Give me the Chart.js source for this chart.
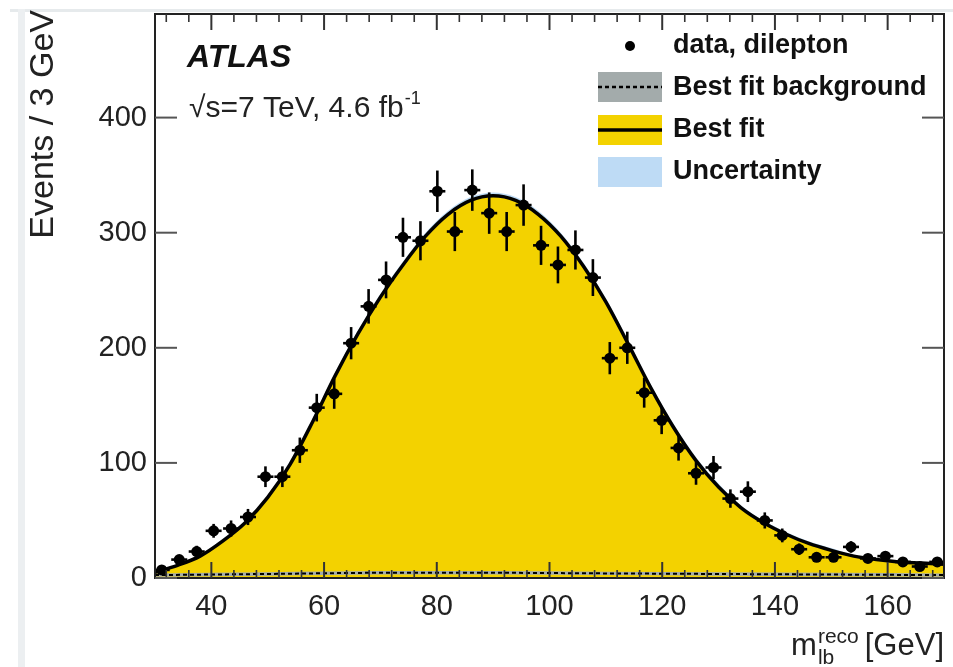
<!DOCTYPE html>
<html><head><meta charset="utf-8">
<script src="https://cdn.jsdelivr.net/npm/chart.js@4.4.1/dist/chart.umd.min.js"></script>
<style>
html,body{margin:0;padding:0;background:#fff;overflow:hidden}
#wrap{position:relative;width:953px;height:667px}
.edgeT{position:absolute;left:10px;top:9px;width:943px;height:3px;background:#e6eaec}
.edgeL{position:absolute;left:18px;top:9px;width:7px;height:658px;background:#eceff1}
canvas{position:absolute;left:0;top:0}
</style></head><body>
<div id="wrap"><div class="edgeT"></div><div class="edgeL"></div><canvas id="c" width="953" height="667"></canvas></div>
<script>
// ---- data ----
const binCenters = [31.2, 34.3, 37.4, 40.4, 43.5, 46.5, 49.6, 52.6, 55.7, 58.7, 61.8, 64.8, 67.9, 71.0, 74.0, 77.1, 80.1, 83.2, 86.3, 89.3, 92.4, 95.4, 98.5, 101.5, 104.6, 107.7, 110.7, 113.8, 116.8, 119.9, 122.9, 126.0, 129.1, 132.1, 135.2, 138.2, 141.3, 144.3, 147.4, 150.4, 153.5, 156.5, 159.6, 162.7, 165.7, 168.8];
const dataCounts = [7, 16, 23, 41, 43, 53, 88, 88, 111, 148, 160, 204, 236, 259, 296, 293, 336, 301, 337, 317, 301, 324, 289, 272, 285, 261, 191, 200, 161, 137, 113, 91, 96, 69, 75, 50, 37, 25, 18, 18, 27, 17, 19, 14, 10, 14];
const dataErrors = [3, 4, 5, 6, 7, 7, 9, 9, 11, 12, 13, 14, 15, 16, 17, 17, 18, 17, 18, 18, 17, 18, 17, 16, 17, 16, 14, 14, 13, 12, 11, 10, 10, 8, 9, 7, 6, 5, 4, 4, 5, 4, 4, 4, 3, 4];

const fitX = [30, 34, 38, 42, 46, 50, 54, 58, 62, 66, 70, 74, 78, 82, 86, 90, 94, 98, 102, 106, 110, 114, 118, 122, 126, 130, 134, 138, 142, 146, 150, 154, 158, 162, 166, 170];
const fitY = [5, 11, 19, 32, 48, 70, 99, 136, 176, 212, 244, 272, 297, 316, 328, 332, 328, 316, 297, 271, 240, 203, 165, 131, 102, 79, 61, 48, 38, 30, 24, 19, 16, 14, 13, 12];
const fitUnc = [1, 1, 1, 2, 2, 2, 3, 3, 3, 3, 3, 3, 3, 3, 3, 3, 3, 3, 3, 3, 3, 3, 3, 3, 3, 3, 2, 2, 2, 2, 2, 1, 1, 1, 1, 1];

const bkgX = [30, 50, 70, 90, 110, 130, 150, 170];
const bkgY = [2.5, 3.5, 4.5, 4.5, 4, 3.5, 3, 2.5];
const bkgUnc = [1.5, 1.5, 1.5, 1.5, 1.5, 1.5, 1.5, 1.5];

const xTicks = [40, 60, 80, 100, 120, 140, 160];
const xMinorTicks = [32, 36, 44, 48, 52, 56, 64, 68, 72, 76, 84, 88, 92, 96, 104, 108, 112, 116, 124, 128, 132, 136, 144, 148, 152, 156, 164, 168];
const yTicks = [0, 100, 200, 300, 400];

const legendLabels = ["data, dilepton", "Best fit background", "Best fit", "Uncertainty"];

// ---- colours ----
const YELLOW = "#F3D200", BLUE = "#BEDBF5", GREY = "#A3ABAB";
const FONT = '"Liberation Sans", Arial, Helvetica, sans-serif';

const pts = (xs, ys) => xs.map((x, i) => ({x: x, y: ys[i]}));

const decor = {
  id: "decor",
  afterDatasetsDraw(chart) {
    const ctx = chart.ctx, xs = chart.scales.x, ys = chart.scales.y, a = chart.chartArea;
    ctx.save();
    ctx.beginPath(); ctx.rect(a.left, a.top, a.right - a.left, a.bottom - a.top); ctx.clip();
    ctx.strokeStyle = "#000"; ctx.lineWidth = 2.6;
    binCenters.forEach((x, i) => {
      const px = xs.getPixelForValue(x);
      const py = ys.getPixelForValue(dataCounts[i]);
      const y1 = ys.getPixelForValue(dataCounts[i] + dataErrors[i]);
      const y2 = ys.getPixelForValue(Math.max(0, dataCounts[i] - dataErrors[i]));
      ctx.beginPath(); ctx.moveTo(px, y1); ctx.lineTo(px, y2); ctx.stroke();
      ctx.beginPath(); ctx.moveTo(px - 8, py); ctx.lineTo(px + 8, py); ctx.stroke();
    });
    ctx.restore();
  },
  afterDraw(chart) {
    const ctx = chart.ctx, xs = chart.scales.x, ys = chart.scales.y, a = chart.chartArea;
    ctx.save();
    const line = (x1, y1, x2, y2) => { ctx.beginPath(); ctx.moveTo(x1, y1); ctx.lineTo(x2, y2); ctx.stroke(); };
    // frame
    ctx.strokeStyle = "#222"; ctx.lineWidth = 2;
    ctx.strokeRect(a.left, a.top, a.right - a.left, a.bottom - a.top);
    // ticks (inward)
    ctx.strokeStyle = "#333"; ctx.lineWidth = 2;
    xTicks.forEach(v => { const p = xs.getPixelForValue(v); line(p, a.bottom, p, a.bottom - 16); line(p, a.top, p, a.top + 16); });
    ctx.lineWidth = 1.6;
    xMinorTicks.forEach(v => { const p = xs.getPixelForValue(v); line(p, a.bottom, p, a.bottom - 8); line(p, a.top, p, a.top + 8); });
    ctx.lineWidth = 2; ctx.strokeStyle = "#555";
    yTicks.forEach(v => { const p = ys.getPixelForValue(v); line(a.left, p, a.left + 22, p); line(a.right, p, a.right - 22, p); });

    // y title
    ctx.fillStyle = "#222";
    ctx.save();
    ctx.translate(44, 10); ctx.rotate(-Math.PI / 2);
    ctx.font = "34px " + FONT; ctx.textAlign = "right"; ctx.textBaseline = "middle";
    ctx.fillText("Events / 3 GeV", 0, 0);
    ctx.restore();

    // x title  m_lb^reco [GeV]
    ctx.textAlign = "left"; ctx.textBaseline = "alphabetic";
    ctx.font = "31px " + FONT;
    const wG = ctx.measureText("[GeV]").width, wM = ctx.measureText("m").width;
    const endX = 944, base = 655;
    const xG = endX - wG;
    ctx.font = "21px " + FONT;
    const wSup = ctx.measureText("reco").width;
    const xS = xG - 6 - wSup;
    ctx.fillText("reco", xS, base - 12);
    ctx.fillText("lb", xS, base + 9);
    ctx.font = "31px " + FONT;
    ctx.fillText("m", xS - 1 - wM, base);
    ctx.fillText("[GeV]", xG, base);

    // ATLAS label
    ctx.fillStyle = "#111";
    ctx.font = "italic bold 32px " + FONT;
    ctx.fillText("ATLAS", 187, 67);
    ctx.font = "30px " + FONT; ctx.fillStyle = "#222";
    const t1 = "\u221As=7 TeV, 4.6 fb";
    ctx.fillText(t1, 189, 117);
    const w1 = ctx.measureText(t1).width;
    ctx.font = "18px " + FONT;
    ctx.fillText("-1", 189 + w1 + 1, 104);

    // legend
    const bx = 598, bw = 64, bh = 30, tx = 673;
    ctx.font = "bold 27px " + FONT; ctx.textBaseline = "middle"; ctx.fillStyle = "#111";
    ctx.beginPath(); ctx.arc(630, 46, 5, 0, Math.PI * 2); ctx.fillStyle = "#000"; ctx.fill();
    ctx.fillStyle = "#111"; ctx.fillText(legendLabels[0], tx, 46);
    ctx.fillStyle = GREY; ctx.fillRect(bx, 72, bw, bh);
    ctx.strokeStyle = "#000"; ctx.lineWidth = 2.5; ctx.setLineDash([4, 3]);
    line(bx, 87, bx + bw, 87); ctx.setLineDash([]);
    ctx.fillStyle = "#111"; ctx.fillText(legendLabels[1], tx, 88);
    ctx.fillStyle = YELLOW; ctx.fillRect(bx, 115, bw, bh);
    ctx.lineWidth = 3.5; line(bx, 130, bx + bw, 130);
    ctx.fillStyle = "#111"; ctx.fillText(legendLabels[2], tx, 130);
    ctx.fillStyle = BLUE; ctx.fillRect(bx, 157, bw, bh);
    ctx.fillStyle = "#111"; ctx.fillText(legendLabels[3], tx, 172);
    ctx.restore();
  }
};

const curveUp = fitX.map((x, i) => ({x: x, y: fitY[i] + fitUnc[i]}));
const curveDn = fitX.map((x, i) => ({x: x, y: fitY[i] - fitUnc[i]}));
const bkgUp = bkgX.map((x, i) => ({x: x, y: bkgY[i] + bkgUnc[i]}));
const bkgDn = bkgX.map((x, i) => ({x: x, y: Math.max(0, bkgY[i] - bkgUnc[i])}));

const smooth = {cubicInterpolationMode: "monotone", pointRadius: 0, showLine: true};

new Chart(document.getElementById("c"), {
  type: "scatter",
  data: {
    datasets: [
      {label: legendLabels[0], data: pts(binCenters, dataCounts), order: 0, pointRadius: 5.5, pointBackgroundColor: "#000", pointBorderWidth: 0, showLine: false},
      Object.assign({label: legendLabels[2], data: pts(fitX, fitY), order: 1, borderColor: "#000", borderWidth: 3.5, fill: false}, smooth),
      Object.assign({label: legendLabels[1], data: pts(bkgX, bkgY), order: 2, borderColor: "#000", borderWidth: 2, borderDash: [4, 3], fill: false}, smooth),
      Object.assign({label: "bkg band up", data: bkgUp, order: 3, borderWidth: 0, backgroundColor: GREY, fill: "+1"}, smooth),
      Object.assign({label: "bkg band down", data: bkgDn, order: 3, borderWidth: 0, fill: false}, smooth),
      Object.assign({label: "fit fill", data: pts(fitX, fitY), order: 4, borderWidth: 0, backgroundColor: YELLOW, fill: "origin"}, smooth),
      Object.assign({label: legendLabels[3], data: curveUp, order: 5, borderWidth: 0, backgroundColor: BLUE, fill: "+1"}, smooth),
      Object.assign({label: "unc down", data: curveDn, order: 5, borderWidth: 0, fill: false}, smooth)
    ]
  },
  options: {
    responsive: false,
    animation: false,
    layout: {padding: {top: 14, right: 9, left: 0, bottom: 0}},
    plugins: {legend: {display: false}, tooltip: {enabled: false}},
    scales: {
      x: {
        type: "linear", min: 30, max: 170,
        afterBuildTicks: s => { s.ticks = xTicks.map(v => ({value: v})); },
        afterFit: s => { s.height = 89; s.paddingLeft = 0; s.paddingRight = 0; },
        grid: {display: false, drawTicks: false}, border: {display: false},
        ticks: {font: {size: 29, family: FONT}, color: "#222", padding: 12}
      },
      y: {
        min: 0, max: 490,
        afterBuildTicks: s => { s.ticks = yTicks.map(v => ({value: v})); },
        afterFit: s => { s.width = 155; s.paddingTop = 0; s.paddingBottom = 0; },
        grid: {display: false, drawTicks: false}, border: {display: false},
        ticks: {font: {size: 29, family: FONT}, color: "#222", padding: 8}
      }
    }
  },
  plugins: [decor]
});
</script>
</body></html>
